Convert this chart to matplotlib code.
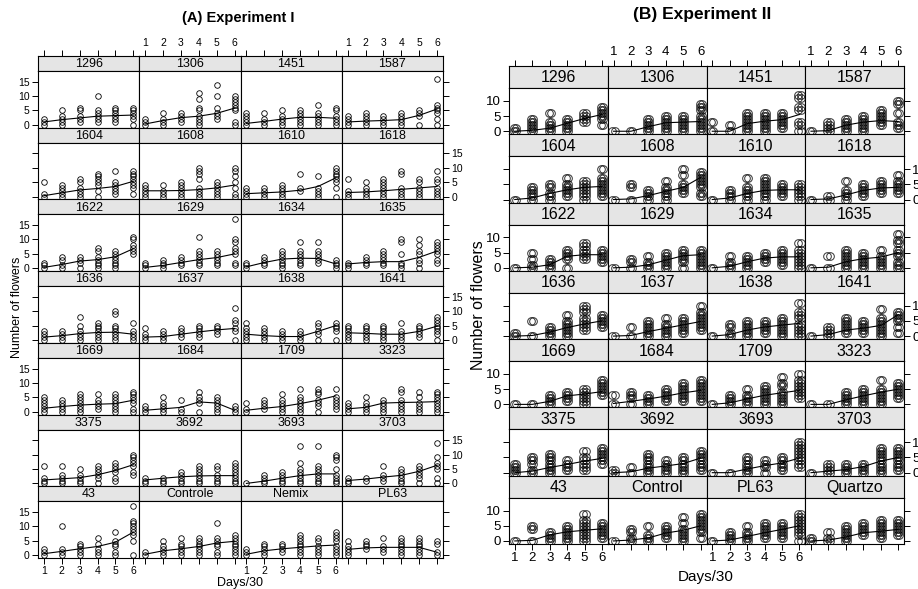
import numpy as np
import matplotlib.pyplot as plt

plt.rcParams['font.family'] = ['Liberation Sans Narrow', 'Liberation Sans', 'DejaVu Sans']

W, H = 918, 589
days = [1, 2, 3, 4, 5, 6]

# Experiment I: flower counts per plant, days separated by "|"
a_names = ['1296', '1306', '1451', '1587',
           '1604', '1608', '1610', '1618',
           '1622', '1629', '1634', '1635',
           '1636', '1637', '1638', '1641',
           '1669', '1684', '1709', '3323',
           '3375', '3692', '3693', '3703',
           '43', 'Controle', 'Nemix', 'PL63']
a_points = [
    "0 1 2|0 1 2 3 5|1 2 3 5 6|1 2 3 4 5 10|1 2 3 4 5 6|0 2 3 4 5 6",
    "0 1 2|0 1 2 4|1 2 3 4|0 1 2 3 5 6 9 11|2 3 4 6 10 14|0 1 5 6 7 8 9 10",
    "0 1 2 3 4|0 1 2 4|0 1 2 3 5|0 1 2 3 4 5|0 1 2 3 4 7|0 1 2 3 5 6",
    "0 1 2 3|0 1 2 3 4|0 1 2 3|0 1 2 3 4|0 3 4 5|0 2 4 5 6 7 16",
    "0 1 5|0 1 2 3 4|0 1 2 3 5 6|0 2 4 5 6 7 8|1 2 3 4 5 9|1 3 4 5 6 7 8 9",
    "0 1 2 3 4|0 1 2 4|0 1 2 3 4 5|0 1 2 3 6 8 9 10|0 1 2 3 4 5|0 1 3 5 7 9 10",
    "0 1 2 3|0 1 2 3|0 1 2 3 4|2 3 8|0 1 2 3 7|0 3 5 6 7 8 9 10",
    "0 1 2 6|0 1 2 3 5|0 1 2 3 4 5 6|0 1 2 3 8 9|0 1 2 3 5 6|0 1 2 3 5 6 9",
    "0 1 2|0 1 3 4|0 2 3 4|0 1 2 3 4 6 7|0 1 2 3 4 5 6|5 6 7 8 10 11",
    "0 1 2|0 1 2 3|1 2 3 4|1 2 3 4 5 6 11|1 2 3 4 5 6|1 2 5 6 7 9 10 17",
    "0 1 2|1 2 3 4|0 1 2 3 4 5 6|1 2 3 4 5 6 9|2 3 4 5 6 9|0 1 2 3",
    "0 1 2|1 2 3 4|1 2 3 4 5 6|0 1 2 5 9 10|0 2 3 5 6 8 10|2 3 5 6 7 8 9",
    "0 1 2 3|0 1 2 3|0 1 2 3 5 8|0 1 2 3 4 5 6|0 1 2 3 4 5 9 10|0 1 2 3 6",
    "0 1 2 4|0 1 2 3|1 2 3 4|1 2 3 4 5|2 3 4 5|0 3 4 6 7 11",
    "0 1 2 3 4 6|0 1 2 3 4|0 1 2 3|0 1 2 3|0 2 3 5 6|0 3 4 5 6",
    "0 1 2 3 4 5|0 1 2 3 4 5|0 1 2 3 4 5|0 1 2 3 6|1 2 3 4 5|0 2 3 4 5 6 7 8",
    "0 1 2 3 4 5|0 1 2 3 4|0 1 2 3 4 5 6|1 2 3 4 6|0 1 2 3 4 5 6|0 1 3 4 5 6 7",
    "0 1 2|0 1 2 3 5|0 1 4|0 3 4 5 7|0 1 2 3 4 5|0 1 2",
    "0 1 3|1 2 3 4|0 1 2 3 4 6|0 1 2 3 4 5 8|0 2 3 4 6 7 8|1 2 3 4 5 8",
    "0 1 2 3|0 1 2 3 5|0 1 2 3 4|0 1 2 3 4 7 8|0 1 2 3 5 7|0 1 2 3 4 5 6 7",
    "0 1 2 6|0 1 2 3 6|0 1 2 3 5|0 2 3 4 5 6|1 2 4 5 6 7|3 4 6 7 8 9 10",
    "0 1 2|0 1 2|0 1 2 3 4|0 1 2 3 4 5 6|0 1 2 3 5 6|0 1 2 3 4 5 6 7",
    "0|0 1 2 3|0 1 2 3 4|0 1 2 3 4 5 7 13|0 1 2 3 4 5 6 13|0 1 2 3 5 8 9 10",
    "0 1 2|1 2|1 2 3 6|0 1 2 3 4 5|0 2 3 4 5 6|0 2 5 6 7 9 14",
    "0 1 2|0 1 2 10|0 1 2 3 4|0 1 2 4 6|0 1 3 4 5 8|0 5 7 8 9 10 11 12 17",
    "0 1|0 1 2 3 5|0 1 2 3 4 6|0 1 2 3 4 5 6|0 1 3 4 5 6 11|0 1 2 3 4 5 6 7",
    "0 1 2|0 1 2 3 4|1 2 3 4|0 1 2 3 4 5 6 7|0 1 2 3 5 6|0 1 2 3 5 6 7 8",
    "0 1 2 3 5|2 3 4 5|1 2 3 6|0 1 2 3 4 5 6|0 1 2 3 4 5 6|0 1 4 5",
]
a_curve = [
    [1.0, 1.8, 2.4, 3.0, 3.2, 3.4], [0.3, 1.5, 2.5, 3.0, 4.0, 5.8],
    [0.5, 1.2, 2.0, 2.6, 2.6, 2.3], [1.0, 1.3, 1.5, 1.8, 3.3, 5.5],
    [0.3, 1.3, 2.3, 2.8, 3.5, 5.3], [2.0, 2.0, 2.1, 2.4, 3.0, 4.0],
    [1.0, 1.3, 1.6, 2.2, 3.5, 6.5], [1.4, 1.6, 2.0, 2.5, 3.0, 3.5],
    [0.3, 1.3, 2.5, 3.0, 4.0, 6.8], [0.3, 1.0, 2.0, 3.0, 3.7, 5.0],
    [0.5, 2.0, 3.2, 3.5, 3.4, 1.5], [1.5, 2.0, 2.3, 2.3, 3.8, 6.0],
    [1.0, 1.5, 2.2, 2.6, 2.7, 2.0], [1.0, 1.2, 2.0, 2.8, 3.5, 4.0],
    [2.0, 1.5, 1.2, 1.2, 3.0, 5.0], [2.5, 2.3, 2.0, 2.0, 3.0, 4.8],
    [1.2, 1.8, 2.3, 2.6, 2.8, 4.0], [0.5, 1.0, 1.5, 3.4, 3.0, 0.5],
    [0.5, 1.2, 1.8, 2.8, 4.0, 5.5], [1.0, 1.5, 3.0, 3.2, 3.3, 3.5],
    [1.2, 1.6, 2.0, 3.0, 4.5, 6.5], [1.2, 1.8, 2.3, 2.6, 2.7, 2.7],
    [0.0, 0.8, 1.8, 2.7, 3.3, 3.3], [1.0, 1.5, 2.2, 2.8, 4.2, 6.3],
    [0.5, 1.3, 2.2, 3.0, 4.5, 8.0], [0.3, 1.5, 2.2, 3.0, 4.2, 4.8],
    [0.3, 1.5, 2.2, 2.7, 3.2, 3.5], [2.0, 2.5, 2.7, 2.7, 2.7, 1.0],
]

# Experiment II
b_names = ['1296', '1306', '1451', '1587',
           '1604', '1608', '1610', '1618',
           '1622', '1629', '1634', '1635',
           '1636', '1637', '1638', '1641',
           '1669', '1684', '1709', '3323',
           '3375', '3692', '3693', '3703',
           '43', 'Control', 'PL63', 'Quartzo']
b_points = [
    "0 1|0 1 2 3 4|0 1 2 3 6|0 1 2 3 4|3 4 5 6|2 4 5 6 7 8",
    "0|0|0 1 2 3 4|0 1 2 3 4 5|0 1 2 3 4 5|0 1 2 3 4 5 7 8 9",
    "0 3|0 2|0 1 2 3 4 5 6|0 1 2 3 4 5 6|1 2 3 4 5 6|0 2 3 7 8 11 12",
    "0|0 1 2 3|0 1 2 3 4|0 1 2 3 4 5|2 3 4 5 6 7|1 2 3 6 9 10",
    "0|0 1 2 3 4|0 1 2 4 5|1 2 3 4 5 7|0 1 2 3 4 5 6|1 2 3 4 5 6 7 10",
    "0|0 4 5|0 1 2 3|0 1 2 3 4 6|2 3 4 5 8 10|1 2 4 5 6 7 8 9",
    "0|0 1 2 3|0 1 2 3 4 7|0 1 2 3 4 5 6 7|1 2 3 4 5|0 1 2 3 4 5",
    "0|0 1|0 1 2 3 6|1 2 3 4 5|2 3 4 5 6|2 3 4 5 6 8",
    "0|0 1 3 5|0 1 2 3|0 3 4 5 6|3 4 5 6 7 8|2 3 4 5 6",
    "0|0 2 3|0 1 2 4|0 1 2 3 4 5|0 2 3 4 5 6|0 1 2 3 4 5 6",
    "0|0 1 2 4|0 1 2 3 4|2 3 4 5|1 2 3 4 5 6|0 1 2 3 4 5 6 8",
    "0|0 4|0 1 2 3 4 5 6|0 1 2 3 4 5|0 1 2 3 4 6|0 1 2 4 5 6 8 9 11",
    "0 1|0 5|0 1 2 3|0 1 2 3 4 5 7|2 3 4 5 6 8 9 10|3 4 5 6 7",
    "0|0 3|0 1 2 3 4 5|0 1 2 3 4 6|1 2 3 4 5 6|2 3 4 5 6 7 8 10",
    "0|0 1 3 4|0 1 2 3 4 5|1 2 3 4 5|0 1 2 3 4 5 6|0 1 2 3 4 6 7 8 11",
    "0|0 1 2 3|1 2 3 4 5 6|1 2 3 4 5|0 1 2 3 4 5 6 9|1 3 5 6 7 8",
    "0|0|0 1 2 3|1 2 3 4|0 1 2 3 4 5|3 4 5 6 7 8",
    "0 3|0 2 3 4|0 1 2 3|1 2 3 4 5|1 2 3 4 5 6 7|1 2 3 4 5 6 7 8",
    "0|0 1 2 3|0 1 2 3 5|0 1 2 3 4 5 6|0 1 2 3 4 6 7 9|2 3 4 5 6 7 8 10",
    "0|0|0 1 2 3 4|0 1 2 3 4 5|0 1 2 3 4 5 8|2 3 4 5 6 7",
    "0 1 2 3|0 1 3 4 5|0 1 2 3 4 5 6|1 2 3 4|1 2 3 4 5 7|3 4 5 6 7 8",
    "0 1|0 2|0 1 2 3 4 5 6|0 1 2 3 4|0 1 2 3 4 5|1 2 3 4 5 6 7",
    "0|0|0 1 2 3 4 5|0 2 3 4|1 2 3 4 5|2 3 4 5 6 7 8 9 10",
    "0|0 1 2 3|0 1 2 3|0 1 2 3|0 1 2 3 4 5 6 7 8|1 2 3 4 5 6 7 8",
    "0|0 4 5|0 1 2 3|0 1 2 3 4 5|0 1 2 3 4 5 6 7 9|1 2 3 4 5 6",
    "0|0 1 3 4|0 1 2 5|1 2 3 4 5|0 1 2 3 4 6 8|1 3 4 5 6 7 8 9",
    "0|0 1 2 3|0 1 2 3 5|1 2 3 4 5 6|1 2 3 4 5 6|0 2 3 4 5 6 7 8 9",
    "0 1|0 1 3|0 1 2 3 4 5|2 3 4 5 6|1 2 3 4 5 6 7|2 3 4 5 6 7",
]
b_curve = [
    [0.0, 0.3, 1.0, 2.6, 4.2, 5.5], [0.0, 0.0, 1.5, 2.8, 3.0, 3.2],
    [0.0, 0.0, 2.5, 3.3, 3.8, 5.5], [0.0, 0.2, 2.0, 3.0, 3.5, 3.2],
    [0.0, 0.5, 2.0, 3.2, 4.0, 4.3], [0.0, 0.2, 1.3, 2.7, 4.0, 7.3],
    [0.0, 0.5, 2.0, 3.0, 3.2, 3.2], [0.0, 0.2, 1.5, 3.0, 3.8, 4.0],
    [0.0, 0.2, 1.0, 3.8, 4.3, 4.3], [0.0, 0.2, 1.0, 2.5, 4.0, 4.3],
    [0.0, 0.5, 2.0, 3.2, 3.6, 3.6], [0.0, 0.2, 2.0, 3.0, 3.5, 5.0],
    [0.0, 0.2, 1.3, 2.8, 4.0, 5.0], [0.0, 0.2, 1.5, 2.6, 3.7, 4.8],
    [0.0, 0.5, 2.0, 3.0, 3.6, 4.2], [0.0, 0.5, 2.0, 2.6, 3.5, 7.0],
    [0.0, 0.0, 1.0, 2.8, 3.4, 4.2], [0.3, 1.0, 1.8, 2.7, 3.8, 4.6],
    [0.0, 0.5, 1.8, 3.0, 3.8, 4.6], [0.0, 0.0, 1.5, 2.8, 4.0, 5.0],
    [0.0, 0.5, 1.7, 2.7, 3.8, 4.7], [0.0, 0.3, 1.5, 2.2, 3.0, 4.8],
    [0.0, 0.0, 1.2, 2.3, 3.2, 4.8], [0.0, 0.5, 1.0, 2.0, 3.8, 5.0],
    [0.0, 0.2, 2.0, 3.0, 3.5, 4.0], [0.0, 0.3, 1.0, 2.6, 3.5, 5.0],
    [0.0, 0.3, 1.5, 2.7, 3.8, 5.0], [0.0, 0.3, 1.3, 2.7, 3.2, 3.8],
]


def frac(x0, y0, w, h):
    # pixel box (top-left origin) -> figure fraction
    return [x0 / W, 1 - (y0 + h) / H, w / W, h / H]


def lattice(fig, names, points, curve, box, st):
    left, top, right, bottom, strip = box
    cw = (right - left) / 4
    rh = (bottom - top) / 7
    for i, name in enumerate(names):
        r, c = divmod(i, 4)
        x0 = left + c * cw
        y0 = top + r * rh
        sax = fig.add_axes(frac(x0, y0, cw, strip))
        ax = fig.add_axes(frac(x0, y0 + strip, cw, rh - strip))

        sax.set_facecolor('#e5e5e5')
        sax.set_xlim(0.67, 6.33)
        sax.set_ylim(0, 1)
        sax.set_yticks([])
        sax.text(3.5, 0.46, name, ha='center', va='center', fontsize=st['strip'])
        sax.tick_params(axis='x', bottom=False, labelbottom=False,
                        top=(r == 0), labeltop=(r == 0 and c % 2 == 1),
                        direction='out', length=4, width=0.7, pad=2,
                        labelsize=st['tick'])
        sax.set_xticks(days)

        for d, grp in zip(days, points[i].split('|')):
            vals = [float(v) for v in grp.split()]
            for dx in st['offsets']:
                ax.plot([d + dx] * len(vals), vals, 'o', mfc='none', mec='black',
                        ms=st['ms'], mew=st['mew'], alpha=st['alpha'])
        ax.plot(days, curve[i], color='black', lw=0.8)

        ax.set_xlim(0.67, 6.33)
        ax.set_ylim(*st['ylim'])
        ax.set_xticks(days)
        ax.set_yticks(st['yticks'])
        ax.tick_params(axis='x', top=False, labeltop=False,
                       bottom=(r == 6), labelbottom=(r == 6 and c % 2 == 0),
                       direction='out', length=4, width=0.7, pad=2,
                       labelsize=st['tick'])
        ax.tick_params(axis='y', left=(c == 0), labelleft=(c == 0 and r % 2 == 0),
                       right=(c == 3), labelright=(c == 3 and r % 2 == 1),
                       direction='out', length=4, width=0.7, pad=2,
                       labelsize=st['tick'])
        for a in (ax, sax):
            for sp in a.spines.values():
                sp.set_linewidth(0.8)


fig = plt.figure(figsize=(W / 100, H / 100), dpi=100)

style_a = dict(strip=9, tick=7.5, ms=4.0, mew=0.6, alpha=1.0, offsets=[0.0],
               ylim=(-1, 18.7), yticks=[0, 5, 10, 15])
style_b = dict(strip=11.5, tick=9.5, ms=5.5, mew=0.7, alpha=0.8, offsets=[-0.06, 0.06],
               ylim=(-1, 14.2), yticks=[0, 5, 10])

lattice(fig, a_names, a_points, a_curve, (38, 56, 443, 558, 15), style_a)
lattice(fig, b_names, b_points, b_curve, (509, 66, 904, 544, 22), style_b)

fig.text(238 / W, 1 - 18 / H, '(A) Experiment I', ha='center', va='center',
         fontsize=10.5, fontweight='bold')
fig.text(702 / W, 1 - 15 / H, '(B) Experiment II', ha='center', va='center',
         fontsize=12.5, fontweight='bold')
fig.text(240 / W, 1 - 583 / H, 'Days/30', ha='center', va='center', fontsize=9)
fig.text(706 / W, 1 - 577 / H, 'Days/30', ha='center', va='center', fontsize=11)
fig.text(17 / W, 1 - 307 / H, 'Number of flowers', ha='center', va='center',
         rotation=90, fontsize=9)
fig.text(479 / W, 1 - 305 / H, 'Number of flowers', ha='center', va='center',
         rotation=90, fontsize=11.5)

fig.savefig('out.png', dpi=100)
